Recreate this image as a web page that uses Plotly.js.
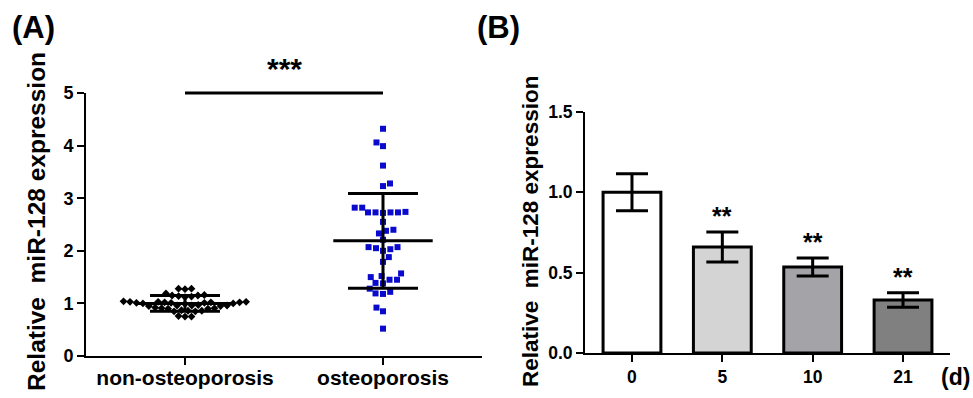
<!DOCTYPE html>
<html><head><meta charset="utf-8">
<script src="https://cdn.plot.ly/plotly-3.0.1.min.js"></script>
<style>html,body{margin:0;padding:0;background:#fff}</style>
</head><body><div id="chart" style="width:973px;height:398px"></div>
<script>
// ---------- Data ----------
const groupsA = ['non-osteoporosis', 'osteoporosis'];
const nonOsteo = [1.28, 1.28, 1.27, 1.19, 1.16, 1.15, 1.15, 1.14, 1.13, 1.12,
  1.04, 1.03, 1.03, 1.03, 1.02, 1.02, 1.02, 1.01, 1.01, 1.01, 1.00, 1.00, 0.99,
  0.97, 0.96, 0.96, 0.96, 0.95, 0.95, 0.92, 0.91, 0.91, 0.90, 0.90,
  0.87, 0.86, 0.86, 0.85, 0.85, 0.76, 0.75, 0.75];
const osteo = [4.32, 4.06, 3.99, 3.62, 3.28, 3.23, 2.82, 2.82, 2.74, 2.73, 2.73, 2.73,
  2.73, 2.72, 2.55, 2.40, 2.38, 2.33, 2.21, 2.07, 2.07, 2.05, 2.03, 2.00, 1.88, 1.79,
  1.57, 1.52, 1.50, 1.45, 1.45, 1.39, 1.38, 1.28, 1.22, 1.19, 1.18, 0.92, 0.85, 0.52];
const meanA = [1.00, 2.19];
const sdA = [0.15, 0.90];
const sigA = '***';

const daysB = ['0', '5', '10', '21'];
const exprB = [1.00, 0.66, 0.535, 0.33];
const semB = [0.115, 0.093, 0.056, 0.045];
const sigB = ['', '**', '**', '**'];
const colorsB = ['#ffffff', '#d4d4d4', '#a4a4a8', '#808080'];

// ---------- Geometry helpers ----------
const W = 973, H = 398;
const FONT = 'Liberation Sans, Arial, sans-serif';
const axA = {x0: 86, x1: 482, y0: 356, y1: 93, xr: [-0.5, 1.5], yr: [0, 5]};
const axB = {x0: 585, x1: 950, y0: 353, y1: 112, xr: [-0.52, 3.52], yr: [0, 1.5]};
const pxPerXA = (axA.x1 - axA.x0) / (axA.xr[1] - axA.xr[0]);
const pxPerYA = (axA.y0 - axA.y1) / (axA.yr[1] - axA.yr[0]);

// beeswarm: place points (lowest value first) at the smallest offset without overlap
function swarm(values, diam) {
  const order = values.map((v, i) => i).sort((a, b) => values[a] - values[b]);
  const placed = [], xs = new Array(values.length).fill(0);
  order.forEach((idx, k) => {
    const y = values[idx] * pxPerYA;
    const cands = [0];
    placed.forEach(p => {
      const dy = Math.abs(p.y - y);
      if (dy < diam) { const dx = Math.sqrt(diam * diam - dy * dy); cands.push(p.x + dx, p.x - dx); }
    });
    const pref = k % 2 ? 1 : -1;
    cands.sort((a, b) => (Math.abs(a) - Math.abs(b)) || (pref * (b - a)));
    let best = 0;
    for (const c of cands) {
      if (placed.every(p => (p.x - c) ** 2 + (p.y - y) ** 2 >= diam * diam - 1e-6)) { best = c; break; }
    }
    placed.push({x: best, y}); xs[idx] = best / pxPerXA;
  });
  return xs;
}

const offNon = swarm(nonOsteo, 6.5);
const offOst = swarm(osteo, 7.5);
const barLenA = 1 * pxPerXA / 1.4; // line-ew marker length = 1.4*size, spanning the two groups

const traces = [
  { // significance bar between the two groups
    x: [0.5], y: [axA.yr[1]], xaxis: 'x', yaxis: 'y', mode: 'markers',
    marker: {symbol: 'line-ew', size: barLenA, color: 'black', line: {color: 'black', width: 3}},
    cliponaxis: false, hoverinfo: 'skip', showlegend: false
  },
  {
    x: offNon.map(d => 0 + d), y: nonOsteo, xaxis: 'x', yaxis: 'y', mode: 'markers',
    marker: {symbol: 'diamond', size: 6, color: 'black'}, cliponaxis: false, showlegend: false
  },
  {
    x: offOst.map(d => 1 + d), y: osteo, xaxis: 'x', yaxis: 'y', mode: 'markers',
    marker: {symbol: 'square', size: 6, color: '#0a0acc'}, cliponaxis: false, showlegend: false
  },
  { // mean +/- SD
    x: [0, 1], y: meanA, xaxis: 'x', yaxis: 'y', mode: 'markers',
    marker: {symbol: 'line-ew', size: 71, color: 'black', line: {color: 'black', width: 3}},
    error_y: {type: 'data', array: sdA, visible: true, width: 35, thickness: 3, color: 'black'},
    cliponaxis: false, showlegend: false
  },
  {
    type: 'bar', x: [0, 1, 2, 3], y: exprB, xaxis: 'x2', yaxis: 'y2',
    marker: {color: colorsB, line: {color: 'black', width: 3}},
    error_y: {type: 'data', array: semB, visible: true, width: 16, thickness: 3, color: 'black'},
    showlegend: false
  }
];

const tf = (s) => ({family: FONT, size: s, color: 'black', weight: 'bold'});
function axisBase() {
  return {showline: true, linecolor: 'black', linewidth: 2, ticks: 'outside', ticklen: 7,
    tickwidth: 2, tickcolor: 'black', showgrid: false, zeroline: false, fixedrange: true};
}
function ann(o) { return Object.assign({showarrow: false, xanchor: 'center', yanchor: 'middle'}, o); }
const layout = {
  width: W, height: H, margin: {l: 0, r: 0, t: 0, b: 0}, paper_bgcolor: 'white', plot_bgcolor: 'white',
  showlegend: false,
  bargap: 0.36,
  xaxis: Object.assign(axisBase(), {domain: [axA.x0 / W, axA.x1 / W], range: axA.xr, tickvals: [0, 1],
    ticktext: groupsA, tickfont: tf(21), ticklabelstandoff: -5, anchor: 'y'}),
  yaxis: Object.assign(axisBase(), {domain: [1 - axA.y0 / H, 1 - axA.y1 / H], range: axA.yr, dtick: 1,
    tickfont: tf(18), anchor: 'x'}),
  xaxis2: Object.assign(axisBase(), {domain: [axB.x0 / W, axB.x1 / W], range: axB.xr, tickvals: [0, 1, 2, 3],
    ticktext: daysB, tickfont: tf(17.5), anchor: 'y2'}),
  yaxis2: Object.assign(axisBase(), {domain: [1 - axB.y0 / H, 1 - axB.y1 / H], range: axB.yr, dtick: 0.5,
    tickformat: '.1f', tickfont: tf(17.5), anchor: 'x2'}),
  annotations: [
    ann({text: '(A)', xref: 'paper', yref: 'paper', x: 33 / W, y: 1 - 27 / H, font: tf(31)}),
    ann({text: '(B)', xref: 'paper', yref: 'paper', x: 498 / W, y: 1 - 27 / H, font: tf(31)}),
    ann({text: 'Relative\u00a0 miR-128 expression', xref: 'paper', yref: 'paper', x: 36 / W, y: 1 - 222 / H,
      textangle: -90, font: tf(24.5)}),
    ann({text: 'Relative\u00a0 miR-128 expression', xref: 'paper', yref: 'paper', x: 530 / W, y: 1 - 232 / H,
      textangle: -90, font: tf(22.5)}),
    ann({text: sigA, xref: 'x', yref: 'y', x: 0.5, y: axA.yr[1], yanchor: 'bottom', yshift: 6, font: tf(30)}),
    ann({text: '(d)', xref: 'paper', yref: 'paper', x: 955 / W, y: 1 - 377 / H, font: tf(23)})
  ]
};
sigB.forEach((s, i) => {
  if (!s) return;
  layout.annotations.push(ann({text: s, xref: 'x2', yref: 'y2', x: i, y: exprB[i] + semB[i], yanchor: 'bottom',
    yshift: 0, font: tf(25)}));
});

Plotly.newPlot('chart', traces, layout, {displayModeBar: false, staticPlot: true});
</script></body></html>
